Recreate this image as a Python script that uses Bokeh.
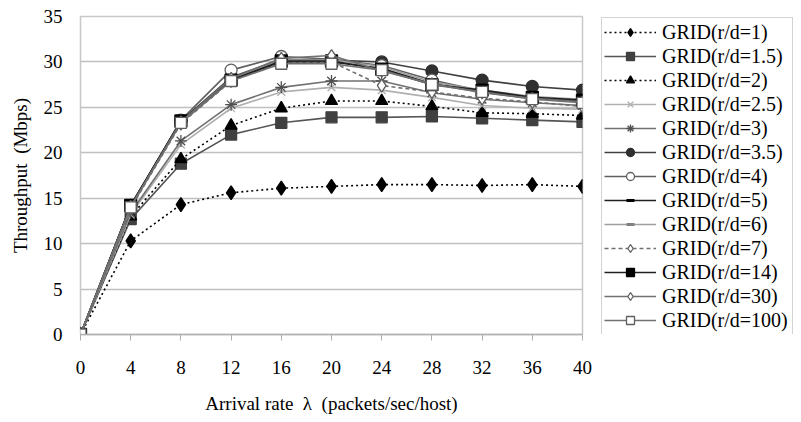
from bokeh.plotting import figure
from bokeh.layouts import row
from bokeh.models import Range1d, Legend, LegendItem, FixedTicker
from bokeh.embed import file_html
from bokeh.resources import INLINE

x_vals = [0, 4, 8, 12, 16, 20, 24, 28, 32, 36, 40]
rd1 = [0, 10.3, 14.3, 15.6, 16.1, 16.3, 16.5, 16.5, 16.4, 16.5, 16.3]
rd1_5 = [0, 12.7, 18.8, 22.0, 23.3, 23.9, 23.9, 24.0, 23.8, 23.6, 23.4]
rd2 = [0, 13.0, 19.3, 23.0, 24.9, 25.7, 25.7, 25.1, 24.4, 24.3, 24.1]
rd2_5 = [0, 13.2, 20.9, 24.9, 26.7, 27.2, 26.9, 26.1, 25.2, 24.9, 24.8]
rd3 = [0, 13.4, 21.3, 25.3, 27.2, 27.9, 27.9, 26.6, 25.9, 25.5, 25.2]
rd3_5 = [0, 14.2, 23.5, 28.3, 30.3, 30.2, 30.0, 29.0, 28.0, 27.3, 26.9]
rd4 = [0, 14.1, 23.6, 29.1, 30.6, 30.3, 29.6, 28.0, 26.8, 26.1, 25.6]
rd5 = [0, 14.2, 23.4, 28.0, 30.0, 30.0, 29.3, 27.6, 26.8, 26.1, 25.7]
rd6 = [0, 14.0, 23.3, 28.1, 30.2, 30.2, 29.5, 27.8, 26.9, 26.2, 25.9]
rd7 = [0, 13.9, 23.2, 27.9, 29.9, 30.0, 27.4, 26.7, 26.0, 25.6, 25.1]
rd14 = [0, 14.2, 23.5, 28.0, 30.1, 30.1, 29.2, 27.5, 26.9, 26.1, 25.8]
rd30 = [0, 14.1, 23.4, 28.2, 30.4, 30.7, 29.0, 27.6, 26.6, 26.0, 25.6]
rd100 = [0, 14.0, 23.3, 27.9, 29.8, 29.8, 29.1, 27.5, 26.7, 25.9, 25.5]

labels = ["GRID(r/d=1)", "GRID(r/d=1.5)", "GRID(r/d=2)", "GRID(r/d=2.5)",
          "GRID(r/d=3)", "GRID(r/d=3.5)", "GRID(r/d=4)", "GRID(r/d=5)",
          "GRID(r/d=6)", "GRID(r/d=7)", "GRID(r/d=14)", "GRID(r/d=30)",
          "GRID(r/d=100)"]
series = [rd1, rd1_5, rd2, rd2_5, rd3, rd3_5, rd4, rd5, rd6, rd7, rd14, rd30, rd100]
y_ticks = [0, 5, 10, 15, 20, 25, 30, 35]

# style per series: (line color, dash, marker, marker size, fill color, marker line color)
styles = [
    ("#000000", "2 3", "diamond", 14, "#000000", "#000000"),
    ("#555555", "solid", "square", 11, "#404040", "#404040"),
    ("#000000", "2 3", "triangle", 12, "#000000", "#000000"),
    ("#b0b0b0", "solid", "x", 11, None, "#b0b0b0"),
    ("#707070", "solid", "asterisk", 12, None, "#505050"),
    ("#404040", "solid", "circle", 12, "#303030", "#303030"),
    ("#606060", "solid", "circle", 12, "#ffffff", "#606060"),
    ("#202020", "solid", "dash", 9, "#000000", "#000000"),
    ("#a0a0a0", "solid", "dash", 9, "#808080", "#808080"),
    ("#707070", "4 3", "diamond", 13, "#ffffff", "#606060"),
    ("#202020", "solid", "square", 12, "#000000", "#000000"),
    ("#707070", "solid", "diamond", 12, "#ffffff", "#606060"),
    ("#707070", "solid", "square", 11, "#ffffff", "#606060"),
]

FONT = "Liberation Serif"

p = figure(width=600, height=420, output_backend="svg", toolbar_location=None,
           x_range=Range1d(0, 40), y_range=Range1d(0, 35),
           min_border_left=80, min_border_right=18, min_border_top=16,
           min_border_bottom=86)

p.outline_line_color = "#c8c8c8"
p.outline_line_width = 1.5
p.xgrid.grid_line_color = None
p.ygrid.grid_line_color = "#c0c0c0"
p.ygrid.grid_line_width = 1.5
p.ygrid.ticker = FixedTicker(ticks=y_ticks)

p.xaxis.ticker = FixedTicker(ticks=x_vals)
p.yaxis.ticker = FixedTicker(ticks=y_ticks)
p.xaxis.axis_line_color = "#b0b0b0"
p.xaxis.axis_line_width = 1.5
p.xaxis.major_tick_line_color = "#b0b0b0"
p.xaxis.major_tick_out = 6
p.xaxis.major_tick_in = 0
p.xaxis.minor_tick_line_color = None
p.yaxis.axis_line_color = None
p.yaxis.major_tick_line_color = None
p.yaxis.minor_tick_line_color = None

for ax in (p.xaxis, p.yaxis):
    ax.major_label_text_font = FONT
    ax.major_label_text_font_size = "19px"
    ax.major_label_text_color = "#000000"
    ax.axis_label_text_font = FONT
    ax.axis_label_text_font_size = "19px"
    ax.axis_label_text_font_style = "normal"
    ax.axis_label_text_color = "#000000"

p.xaxis.major_label_standoff = 20
p.yaxis.major_label_standoff = 12
p.xaxis.axis_label = "Arrival rate\u00a0 \u03bb\u00a0 (packets/sec/host)"
p.yaxis.axis_label = "Throughput\u00a0 (Mbps)"
p.xaxis.axis_label_standoff = 16
p.yaxis.axis_label_standoff = 10

# legend panel: a second figure whose ranges keep its copies of the series out of
# view, so that only its legend shows
pl = figure(width=200, height=420, output_backend="svg", toolbar_location=None,
            x_range=Range1d(1000, 1001), y_range=Range1d(1000, 1001),
            x_axis_location=None, y_axis_location=None,
            min_border_left=0, min_border_right=0, min_border_top=0,
            min_border_bottom=0)
pl.grid.visible = False
pl.outline_line_color = None

items = []
for lab, ys, st in zip(labels, series, styles):
    lc, dash, mk, sz, fc, mlc = st
    kw = dict(marker=mk, size=sz, line_color=mlc, line_width=1.3)
    if fc is None:
        kw["fill_alpha"] = 0
    else:
        kw["fill_color"] = fc
    if mk == "dash":
        kw["line_width"] = 3
    p.line(x_vals, ys, line_color=lc, line_width=1.6, line_dash=dash)
    p.scatter(x_vals, ys, **kw)
    l1 = pl.line(x_vals, ys, line_color=lc, line_width=1.6, line_dash=dash)
    l2 = pl.scatter(x_vals, ys, **kw)
    items.append(LegendItem(label=lab, renderers=[l1, l2]))

legend = Legend(items=items, location="top_left")
legend.label_text_font = FONT
legend.label_text_font_size = "20px"
legend.label_text_color = "#000000"
legend.label_height = 24
legend.label_width = 128
legend.glyph_height = 20
legend.glyph_width = 52
legend.label_standoff = 6
legend.spacing = 0
legend.padding = 2
legend.margin = 1
legend.border_line_color = "#a8a8a8"
legend.border_line_width = 1.5
legend.background_fill_alpha = 1
pl.add_layout(legend, "center")

layout = row(p, pl)
open("out.html", "w").write(file_html(layout, INLINE))
